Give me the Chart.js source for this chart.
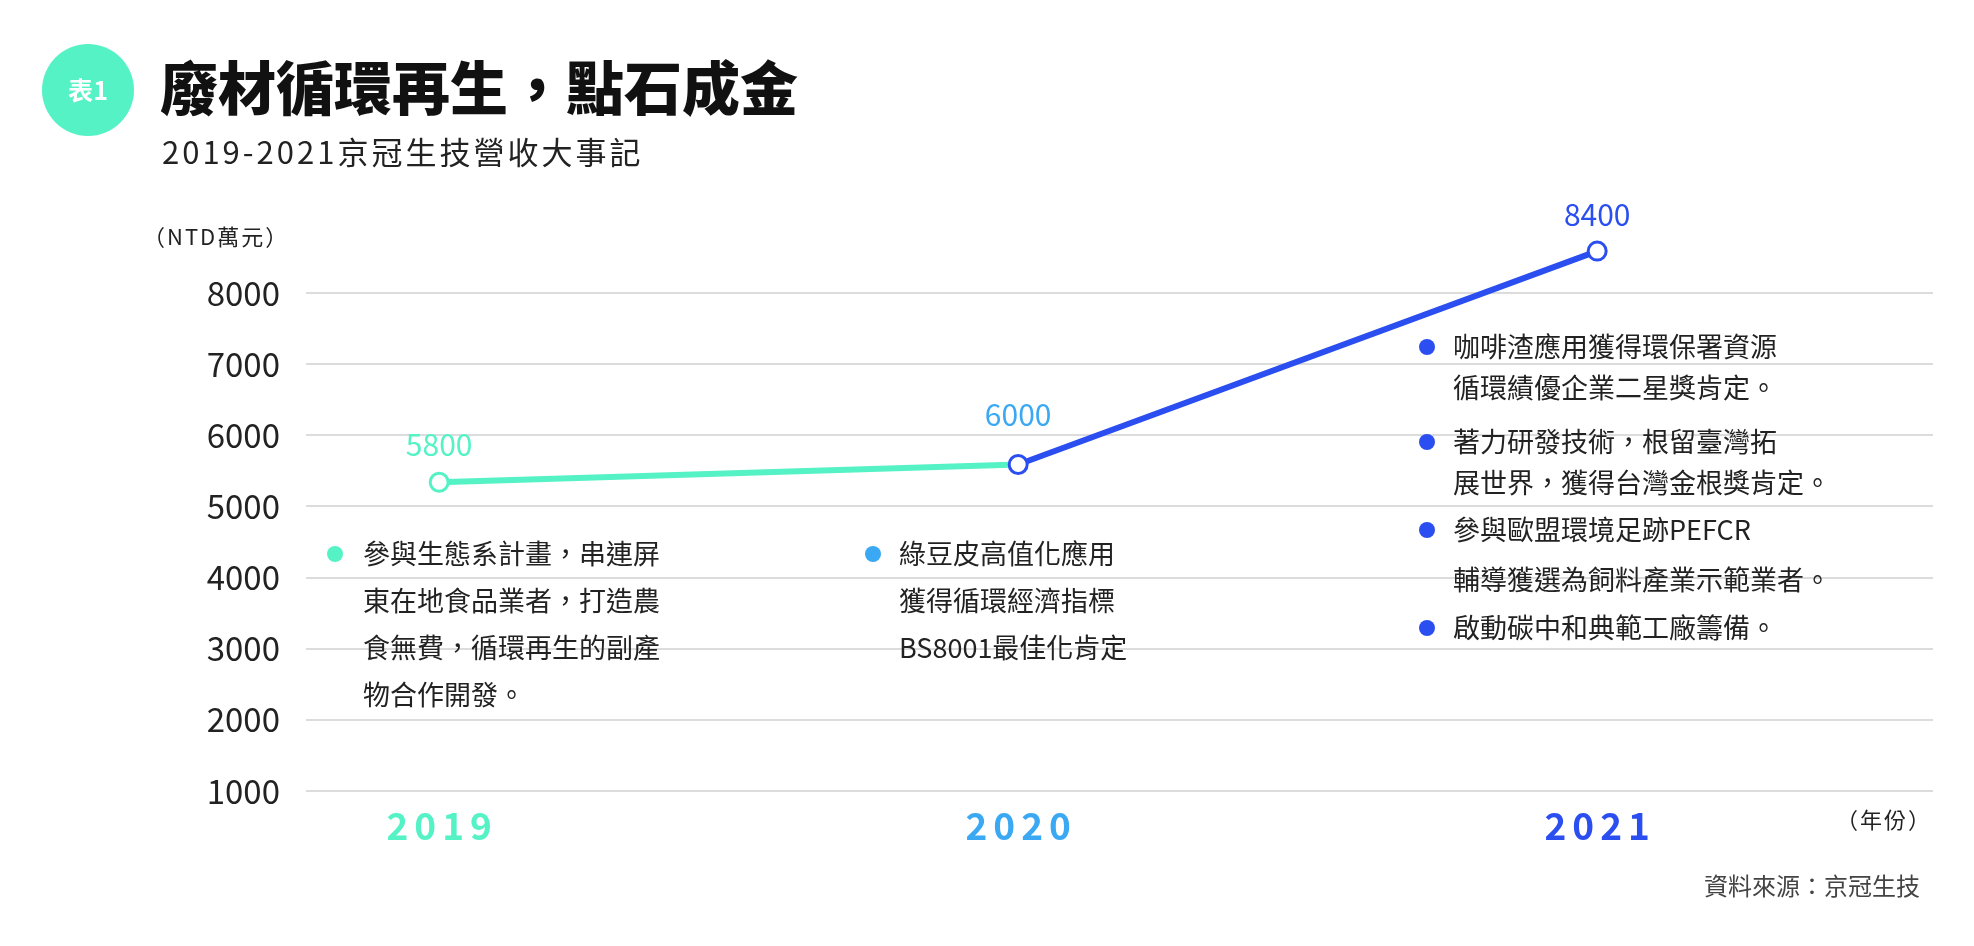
<!DOCTYPE html>
<html>
<head>
<meta charset="utf-8">
<script src="https://cdn.jsdelivr.net/npm/chart.js@4"></script>
<style>
  html, body { margin: 0; padding: 0; background: #fff; }
  #wrap { width: 1974px; height: 946px; }
</style>
</head>
<body>
<div id="wrap"><canvas id="chart" width="1974" height="946"></canvas></div>
<script>
// ── data ─────────────────────────────────────────────────────────────────────
const years       = [2019, 2020, 2021];
const yearLabels  = ['2019', '2020', '2021'];
const revenue     = [5340, 5590, 8590];        // plotted height as drawn in the picture
const valueLabels = ['5800', '6000', '8400'];  // printed numbers above each point
const yTicks      = [1000, 2000, 3000, 4000, 5000, 6000, 7000, 8000];
const colors      = ['#55f2c6', '#3aa8f3', '#2b4ef0'];
const notes2019   = [['參與生態系計畫，串連屏', '東在地食品業者，打造農', '食無費，循環再生的副產', '物合作開發。']];
const notes2020   = [['綠豆皮高值化應用', '獲得循環經濟指標', 'BS8001最佳化肯定']];
const notes2021   = [
  ['咖啡渣應用獲得環保署資源', '循環績優企業二星獎肯定。'],
  ['著力研發技術，根留臺灣拓', '展世界，獲得台灣金根獎肯定。'],
  ['參與歐盟環境足跡PEFCR', '輔導獲選為飼料產業示範業者。'],
  ['啟動碳中和典範工廠籌備。']
];

const FONT = '"Noto Sans CJK TC", "Noto Sans", sans-serif';

// Draws titles, tick labels and the milestone notes on top of the scales
const decor = {
  id: 'decor',
  afterDraw(chart) {
    const ctx = chart.ctx;
    const xs = chart.scales.x, ys = chart.scales.y;
    ctx.save();

    // badge + title
    ctx.fillStyle = colors[0];
    ctx.beginPath(); ctx.arc(88, 90, 46, 0, Math.PI * 2); ctx.fill();
    ctx.fillStyle = '#fff';
    ctx.font = `bold 25px ${FONT}`;
    ctx.textAlign = 'center'; ctx.textBaseline = 'middle';
    ctx.fillText('表1', 88, 90);
    ctx.fillStyle = '#111';
    ctx.textAlign = 'left';
    ctx.font = `900 58px ${FONT}`;
    ctx.fillText('廢材循環再生，點石成金', 160, 88);
    ctx.font = `31px ${FONT}`;
    ctx.fillStyle = '#222';
    ctx.letterSpacing = '3px';
    ctx.fillText('2019-2021京冠生技營收大事記', 162, 152);
    ctx.letterSpacing = '0px';

    // axis captions
    ctx.font = `22px ${FONT}`;
    ctx.letterSpacing = '2px';
    ctx.fillText('（NTD萬元）', 143, 237);
    ctx.fillText('（年份）', 1836, 820);
    ctx.letterSpacing = '0px';
    ctx.textAlign = 'right';
    ctx.font = `24px ${FONT}`;
    ctx.fillStyle = '#444';
    ctx.fillText('資料來源：京冠生技', 1920, 886);

    // y tick labels
    ctx.fillStyle = '#222';
    ctx.font = `33px ${FONT}`;
    yTicks.forEach(v => ctx.fillText(String(v), 280, ys.getPixelForValue(v)));

    // x tick labels
    ctx.textAlign = 'center';
    ctx.font = `bold 37px ${FONT}`;
    ctx.letterSpacing = '6px';
    years.forEach((y, i) => {
      ctx.fillStyle = colors[i];
      ctx.fillText(yearLabels[i], xs.getPixelForValue(y) + 3, 826);
    });
    ctx.letterSpacing = '0px';

    // value labels over the points
    ctx.font = `30px ${FONT}`;
    const valOffsets = [-38, -50, -36];
    years.forEach((y, i) => {
      ctx.fillStyle = colors[i];
      ctx.fillText(valueLabels[i], xs.getPixelForValue(y), ys.getPixelForValue(revenue[i]) + valOffsets[i]);
    });

    // milestone notes
    ctx.textAlign = 'left';
    ctx.font = `27px ${FONT}`;
    const dot = (x, y, c) => {
      ctx.fillStyle = c;
      ctx.beginPath(); ctx.arc(x, y, 8, 0, Math.PI * 2); ctx.fill();
      ctx.fillStyle = '#222';
    };
    const block = (lines, bx, tx, y, color, step) => {
      dot(bx, y, color);
      lines.forEach(line => { ctx.fillText(line, tx, y); y += step; });
    };
    block(notes2019[0], 335, 363, 554, colors[0], 47);
    block(notes2020[0], 873, 899, 554, colors[1], 47);
    block(notes2021[0], 1427, 1453, 347, colors[2], 41);
    block(notes2021[1], 1427, 1453, 442, colors[2], 41);
    block(notes2021[2], 1427, 1453, 530, colors[2], 50);
    block(notes2021[3], 1427, 1453, 628, colors[2], 41);

    ctx.restore();
  }
};

new Chart(document.getElementById('chart').getContext('2d'), {
  type: 'line',
  data: {
    datasets: [{
      data: years.map((y, i) => ({ x: y, y: revenue[i] })),
      borderWidth: 6,
      segment: { borderColor: c => c.p0DataIndex === 0 ? colors[0] : colors[2] },
      pointRadius: 9,
      pointBorderWidth: 3,
      pointBackgroundColor: '#fff',
      pointBorderColor: [colors[0], colors[2], colors[2]],
      tension: 0
    }]
  },
  options: {
    responsive: false,
    animation: false,
    layout: { padding: { left: 306, right: 41, top: 234, bottom: 147 } },
    plugins: { legend: { display: false }, tooltip: { enabled: false } },
    scales: {
      x: {
        type: 'linear', min: 2018.77, max: 2021.58,
        ticks: { display: false },
        grid: { display: false },
        border: { display: false }
      },
      y: {
        min: 1000, max: 8830,
        afterBuildTicks: s => { s.ticks = yTicks.map(v => ({ value: v })); },
        ticks: { display: false },
        grid: { color: '#dcdcdc', lineWidth: 2, drawTicks: false },
        border: { display: false }
      }
    }
  },
  plugins: [decor]
});
</script>
</body>
</html>
